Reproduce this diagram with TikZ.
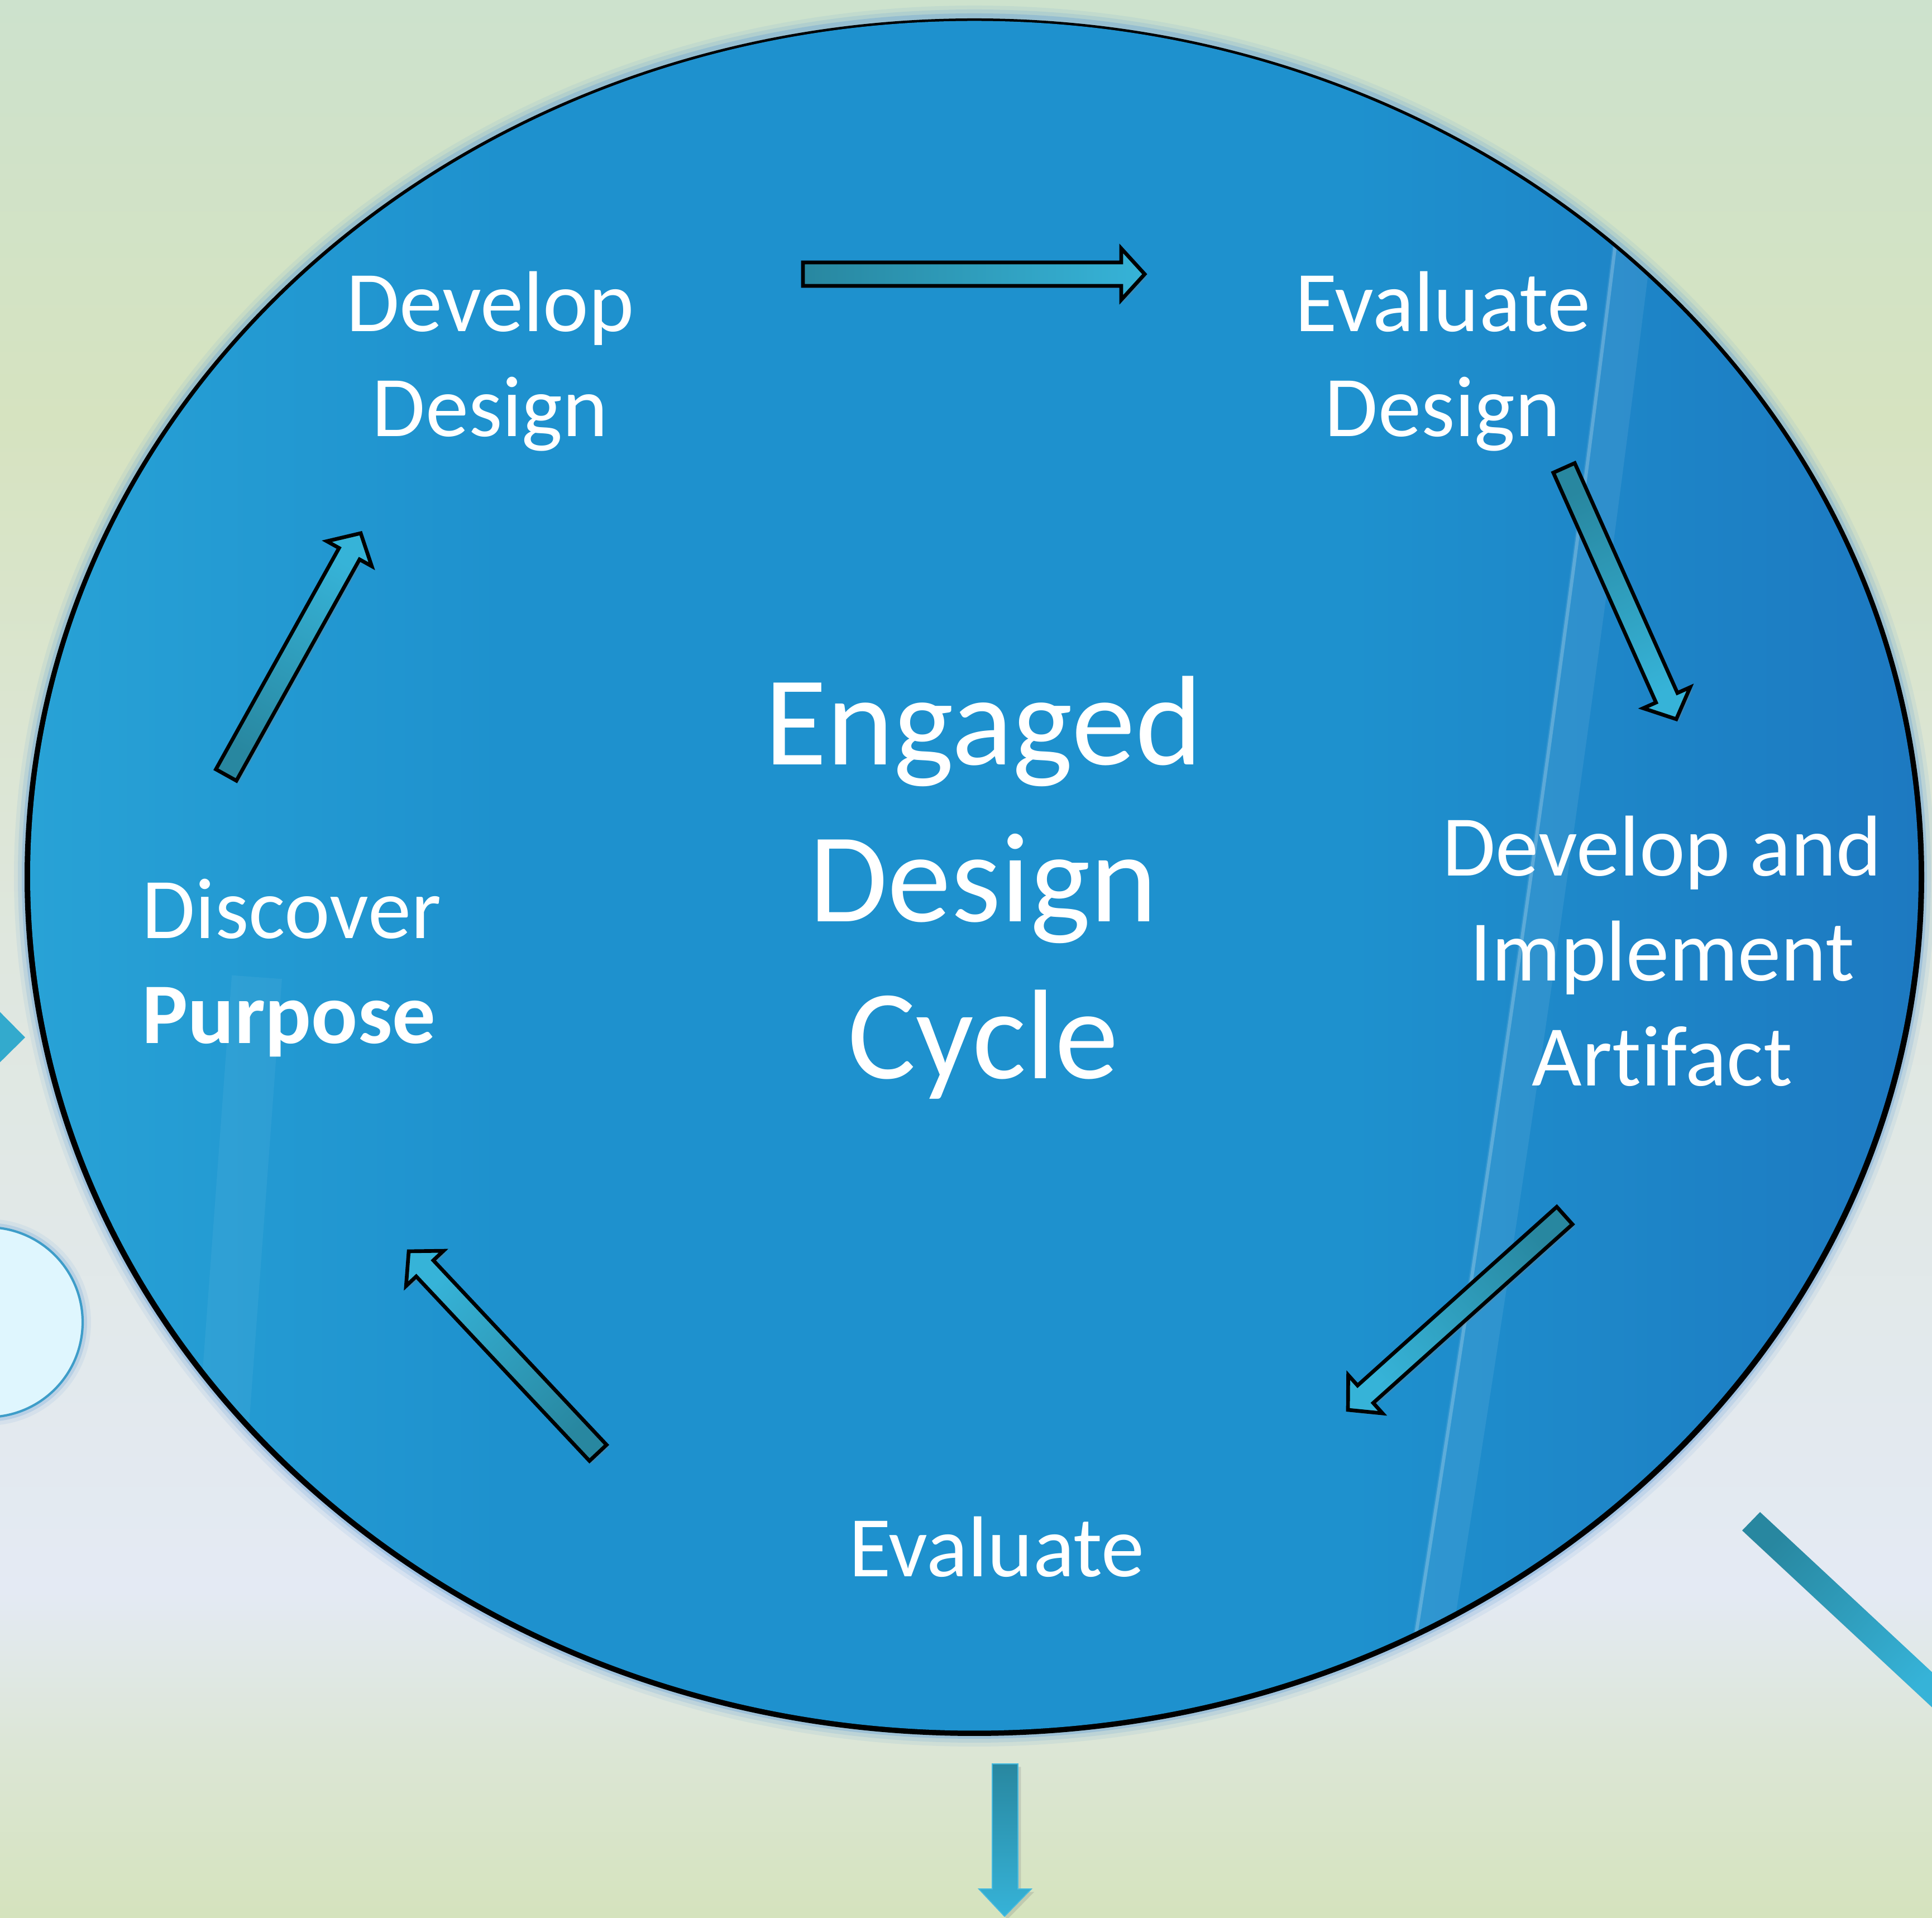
\documentclass[tikz,border=0pt]{standalone}
\usepackage{fontspec}
\setmainfont{Carlito}[Ligatures=NoCommon]
\usetikzlibrary{calc,shadows}

\definecolor{bgtop}{HTML}{CDE2CD}
\definecolor{bgyel}{HTML}{D6E3C0}
\definecolor{bgmid}{HTML}{DFE7DF}
\definecolor{bgblue}{HTML}{E4EAF4}
\definecolor{bglow}{HTML}{DCE6D6}
\definecolor{bgbot}{HTML}{D5E3BD}
\definecolor{discL}{HTML}{28A2D6}
\definecolor{discM}{HTML}{1E91CE}
\definecolor{discR}{HTML}{1D79C1}
\definecolor{halo}{HTML}{5A9AD6}
\definecolor{arrowdark}{HTML}{2887A0}
\definecolor{arrowlight}{HTML}{36B3D8}
\definecolor{arrowedge}{HTML}{45BADF}
\definecolor{bubble}{HTML}{DFF6FE}
\definecolor{bubbleedge}{HTML}{3E9DC9}

% page background, bottom (25bp) to top (75bp)
\pgfdeclareverticalshading{pagebg}{100bp}{color(0bp)=(bgbot); color(25bp)=(bgbot);
  color(29.5bp)=(bglow); color(33.5bp)=(bgblue); color(50bp)=(bgmid); color(64bp)=(bgyel);
  color(75bp)=(bgtop); color(100bp)=(bgtop)}
% the big disc, left (25bp) to right (75bp)
\pgfdeclarehorizontalshading{discfill}{100bp}{color(0bp)=(discL); color(25bp)=(discL);
  color(37.5bp)=(discM); color(60bp)=(discM); color(75bp)=(discR); color(100bp)=(discR)}

\newcommand\shaftw{0.21cm}
\newcommand\headw{0.46cm}
\newcommand\headlen{0.42cm}

% outlined block arrow: tail, tip, shading angle
\newcommand\blockarrow[3]{%
  \coordinate (neck) at ($(#2)!\headlen!(#1)$);
  \shadedraw[cyclearrow, shading angle=#3]
    ($(#1)!\shaftw!90:(#2)$) -- ($(neck)!\shaftw!90:(#2)$) -- ($(neck)!\headw!90:(#2)$) -- (#2)
    -- ($(neck)!\headw!-90:(#2)$) -- ($(neck)!\shaftw!-90:(#2)$) -- ($(#1)!\shaftw!-90:(#2)$) -- cycle;
}

\tikzset{
  stage/.style={text=white, inner sep=0pt, align=center, font=\fontsize{44}{53.5}\selectfont},
  title/.style={text=white, inner sep=0pt, align=center, font=\fontsize{65}{80}\selectfont},
  cyclearrow/.style={draw=black, line width=1.9pt, line join=miter,
    bottom color=arrowdark, top color=arrowlight,
    drop shadow={opacity=0.3, shadow xshift=1.2pt, shadow yshift=-1.2pt}}
}

\begin{document}
\begin{tikzpicture}

\useasboundingbox (0,0) rectangle (34.60,34.35);
\clip (0,0) rectangle (34.60,34.35);
\shade[shading=pagebg] (0,0) rectangle (34.60,34.35);

% --------- shapes cut by the picture edges ----------
\fill[arrowlight!95!black] (-0.4,16.63) -- (0.45,15.77) -- (-0.4,14.93) -- cycle;
\foreach \lw/\op in {0.30/0.10, 0.16/0.22}
  \draw[halo, line width=\lw cm, opacity=\op] (-0.22,10.67) circle (1.70);
\filldraw[fill=bubble, draw=bubbleedge, line width=1.2pt] (-0.22,10.67) circle (1.70);

\coordinate (barA) at (31.20,6.94);
\coordinate (barB) at (31.52,7.27);
\shade[bottom color=arrowdark, top color=arrowlight, shading angle=-133,
  drop shadow={opacity=0.25, shadow xshift=1.5pt, shadow yshift=-1.5pt}]
  (barA) -- (barB) -- (35.00,4.03) -- (34.68,3.70) -- cycle;

% --------- the disc ----------
\foreach \lw/\op in {0.46/0.10, 0.32/0.16, 0.18/0.30}
  \draw[halo, line width=\lw cm, opacity=\op] (17.45,18.66) ellipse (16.97 and 15.36);
\fill[black] (17.45,18.64) ellipse (17.01 and 15.38);
\shade[shading=discfill] (17.45,18.665) ellipse (16.91 and 15.31);

% light streaks on the disc
\begin{scope}
  \clip (17.45,18.665) ellipse (16.91 and 15.31);
  \draw[white, opacity=0.08, line width=0.7cm] (29.4,31.35) .. controls (28.3,22.35) and (27.0,13.35) .. (25.3,2.85);
  \draw[white, opacity=0.22, line width=0.06cm] (29.1,31.35) .. controls (28.0,22.35) and (26.7,13.35) .. (25.0,2.85);
  \draw[white, opacity=0.05, line width=0.9cm] (4.6,16.85) -- (3.9,7.35);
\end{scope}

% --------- stages ----------
\node[stage, anchor=base] (devdesign) at (8.78,26.53) {Develop\\Design};
\node[stage, anchor=base] (evaldesign) at (25.84,26.53) {Evaluate\\Design};
\node[stage, anchor=base] (implement) at (29.77,14.90) {Develop and\\Implement\\Artifact};
\node[stage, anchor=base] (evaluate) at (17.85,6.11) {Evaluate};
\node[stage, anchor=base west, align=left] (purpose) at (2.54,15.66) {Discover\\\textbf{Purpose}};
\node[title, anchor=base] (engaged) at (17.61,15.03) {Engaged\\Design\\Cycle};

% --------- cycle arrows ----------
\coordinate (dd-out) at (14.38,29.44); \coordinate (ed-in) at (20.50,29.44);
\coordinate (ed-out) at (28.01,25.97); \coordinate (im-in) at (30.02,21.47);
\coordinate (im-out) at (28.02,12.58); \coordinate (ev-in) at (24.14,9.10);
\coordinate (ev-out) at (10.71,8.33);  \coordinate (dp-in) at (7.32,11.94);
\coordinate (dp-out) at (4.05,20.47);  \coordinate (dd-in) at (6.46,24.80);

\blockarrow{dd-out}{ed-in}{-90}
\blockarrow{ed-out}{im-in}{-155.9}
\blockarrow{im-out}{ev-in}{132}
\blockarrow{ev-out}{dp-in}{43.2}
\blockarrow{dp-out}{dd-in}{-29.1}

% --------- arrow leaving the disc ----------
\shadedraw[top color=arrowdark, bottom color=arrowlight, draw=arrowedge, line width=0.5pt,
  drop shadow={opacity=0.25, shadow xshift=1.5pt, shadow yshift=-1.5pt}]
  (17.77,2.76) -- (18.23,2.76) -- (18.23,0.52) -- (18.47,0.52) -- (17.99,0.03)
  -- (17.53,0.52) -- (17.77,0.52) -- cycle;

\end{tikzpicture}
\end{document}
